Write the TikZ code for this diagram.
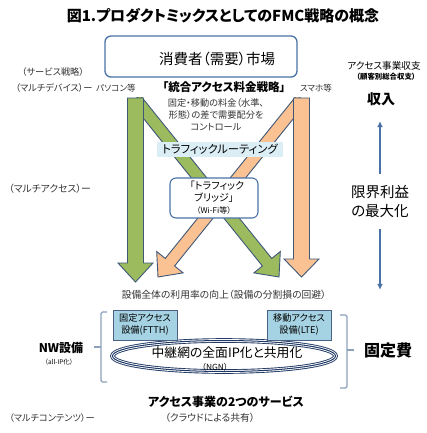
\documentclass[tikz,border=0pt]{standalone}
\usepackage{fontspec}
\setmainfont{Noto Sans CJK JP}[RawFeature=+palt]
\usepackage{tikz}
\usetikzlibrary{arrows.meta,positioning,shapes.geometric,calc}
\definecolor{fmcGreen}{HTML}{9CBB5E}
\definecolor{fmcOrange}{HTML}{FAC192}
\definecolor{fmcEdge}{HTML}{3F5878}
\definecolor{fmcBlue}{HTML}{4A72A6}
\definecolor{fmcSky}{HTML}{DCEEF5}
\definecolor{fmcTeal}{HTML}{A6D3E3}
\definecolor{fmcNavy}{HTML}{1F3864}
\definecolor{fmcBrace}{HTML}{8CA0BA}
\definecolor{fmcText}{HTML}{333333}
\tikzset{
  market/.style={rectangle, rounded corners=6pt, draw=fmcBlue, line width=1.3pt, minimum width=192pt, minimum height=41pt, inner sep=0pt},
  routing/.style={rectangle, fill=fmcSky, minimum width=126pt, minimum height=15pt, inner sep=0pt, font=\fontsize{11.3}{12}\selectfont},
  bridge/.style={rectangle, rounded corners=6pt, draw=fmcBlue, line width=1.1pt, fill=white, minimum width=88pt, minimum height=40pt, inner sep=0pt, align=center},
  access/.style={rectangle, draw=fmcNavy!80, line width=1pt, fill=fmcTeal, minimum width=64pt, minimum height=30pt, inner sep=0pt, align=center, font=\fontsize{9.2}{12}\selectfont},
  ring/.style={ellipse, draw=fmcNavy, line width=4.6pt, minimum width=223pt, minimum height=31pt, inner sep=0pt, postaction={draw=white, line width=2.8pt}, postaction={draw=fmcNavy, line width=1pt}},
  side/.style={text=fmcText, font=\fontsize{9.2}{10}\selectfont, inner sep=0pt},
  blockG/.style={fill=fmcGreen, draw=fmcEdge, line width=0.9pt},
  blockO/.style={fill=fmcOrange, draw=fmcEdge, line width=0.9pt},
  brace/.style={draw=fmcBrace, line width=1.2pt, rounded corners=1.5pt},
  flow/.style={-{Latex[length=6pt,width=6pt]}, draw=fmcBlue, line width=1.3pt}
}
% block arrow: style, start, tip, half shaft, half head, head length
\newcommand{\blockarrow}[6]{%
  \coordinate (#3-base) at ($(#3)!#6!(#2)$);
  \draw[#1] ($(#2)!#4!90:(#3)$) -- ($(#3-base)!#4!90:(#3)$) -- ($(#3-base)!#5!90:(#3)$) -- (#3)
    -- ($(#3-base)!#5!-90:(#3)$) -- ($(#3-base)!#4!-90:(#3)$) -- ($(#2)!#4!-90:(#3)$) -- cycle;
}

\begin{document}
\begin{tikzpicture}[x=1pt,y=-1pt]
\useasboundingbox (0,0) rectangle (427,433);

\node[font=\bfseries\fontsize{15}{16}\selectfont] (title) at (223,16) {図1.プロダクトミックスとしてのFMC戦略の概念};

\node[market] (market) at (201,56.5) {};
\node[font=\fontsize{14.5}{15}\selectfont] (marketlbl) at (217,59) {消費者（需要）市場};

% left side
\node[side] (svc) at (53,72) {（サービス戦略）};
\node[side] (device) at (54,88) {（マルチデバイス）ー};
\node[side, font=\fontsize{9.8}{10}\selectfont] (multi) at (50,189) {（マルチアクセス）ー};
\node[font=\bfseries\fontsize{12}{14}\selectfont] (nw) at (61,348) {NW設備};
\node[font=\fontsize{6.4}{7}\selectfont] (allip) at (59,362) {（all-IP化）};
\node[side] (contents) at (52,418) {（マルチコンテンツ）ー};

\node[side, font=\fontsize{8.6}{9}\selectfont] (pc) at (116,88) {パソコン等};
\node[side, font=\fontsize{8.6}{9}\selectfont] (phone) at (316,88) {スマホ等};

% arrows
\coordinate (gtop) at (135.5,98);
\coordinate (gtip) at (135.5,282);
\coordinate (otop) at (301.5,98);
\coordinate (otip) at (301.5,277);
\coordinate (gdiag) at (135.5,99);
\coordinate (gdtip) at (279,277);
\coordinate (odiag) at (301.5,99);
\coordinate (odtip) at (158,277);
\begin{scope}
  \clip (0,98) rectangle (427,433);
  \blockarrow{blockG}{gdiag}{gdtip}{6pt}{17pt}{19pt}
  \blockarrow{blockO}{odiag}{odtip}{6pt}{17pt}{19pt}
\end{scope}
\blockarrow{blockG}{gtop}{gtip}{8pt}{17.5pt}{19pt}
\blockarrow{blockO}{otop}{otip}{8pt}{17.5pt}{18pt}

\node[font=\bfseries\fontsize{11.5}{12}\selectfont] (pricing) at (224,87) {「統合アクセス料金戦略」};
\node[align=center, text=fmcText, font=\fontsize{9.2}{12}\selectfont] (pricingnote) at (216,115) {固定・移動の料金（水準、\\形態）の差で需要配分を\\コントロール};

\node[routing] (route) at (220,149.5) {トラフィックルーティング};
\node[bridge] (bridge) at (214,198) {\fontsize{10}{12.5}\selectfont\hspace*{6pt}「トラフィック\\ブリッジ」\\{\fontsize{8}{9}\selectfont（Wi-Fi等）}};

\node[text=fmcText, font=\fontsize{9.8}{11}\selectfont] (usage) at (224,295) {設備全体の利用率の向上（設備の分割損の回避）};

% network
\node[ring] (ngnring) at (224,356) {};
\node[access] (ftth) at (145,325) {固定アクセス\\設備(FTTH)};
\node[access] (lte) at (299,325) {移動アクセス\\設備(LTE)};
\node[font=\fontsize{12.8}{14}\selectfont] (backbone) at (227,353) {中継網の全面IP化と共用化};
\node[font=\fontsize{8.4}{9}\selectfont] (ngn) at (215,367) {（NGN）};

\draw[brace] (107,312) -- (101,312) -- (101,382) -- (107,382);
\draw[brace] (101,347) -- (94,347);
\draw[brace] (340,315) -- (347,315) -- (347,388) -- (340,388);
\draw[brace] (347,350) -- (354,350);

\node[font=\bfseries\fontsize{12}{13}\selectfont] (services) at (226,402) {アクセス事業の2つのサービス};
\node[side, font=\fontsize{9.8}{10}\selectfont] (cloud) at (210,418) {（クラウドによる共有）};

% right side
\node[font=\fontsize{9.6}{10}\selectfont] (ledger) at (384,66) {アクセス事業収支};
\node[font=\bfseries\fontsize{7.4}{8}\selectfont] (ledgersub) at (386,77) {（顧客別総合収支）};
\node[font=\bfseries\fontsize{14}{16}\selectfont] (income) at (381,99) {収入};
\node[align=center, font=\fontsize{14.5}{19}\selectfont] (margin) at (380,201.5) {限界利益\\の最大化};
\node[font=\bfseries\fontsize{16}{18}\selectfont] (fixed) at (388,350) {固定費};

\draw[flow, shorten <=8pt, shorten >=12pt] (margin.north) -- (margin.north |- income.south);
\draw[flow, shorten <=8pt, shorten >=49pt] (margin.south) -- (margin.south |- fixed.north);

\end{tikzpicture}
\end{document}
